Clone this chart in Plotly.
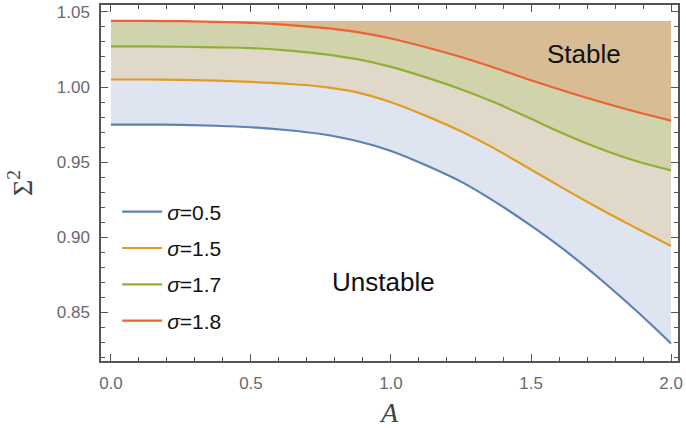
import plotly.graph_objects as go

A = [0.0, 0.125, 0.25, 0.375, 0.5, 0.625, 0.75, 0.875, 1.0, 1.125, 1.25, 1.375, 1.5, 1.625, 1.75, 1.875, 2.0]
s05 = [0.9750, 0.9750, 0.9748, 0.9742, 0.9732, 0.9714, 0.9687, 0.9642, 0.9574, 0.9479, 0.9370, 0.9232, 0.9077, 0.8907, 0.8717, 0.8512, 0.8293]
s15 = [1.0050, 1.0050, 1.0048, 1.0042, 1.0034, 1.0022, 1.0003, 0.9966, 0.9899, 0.9808, 0.9705, 0.9585, 0.9450, 0.9315, 0.9185, 0.9062, 0.8942]
s17 = [1.0270, 1.0270, 1.0268, 1.0264, 1.0259, 1.0244, 1.0221, 1.0187, 1.0134, 1.0064, 0.9985, 0.9893, 0.9788, 0.9682, 0.9587, 0.9507, 0.9445]
s18 = [1.0440, 1.0440, 1.0438, 1.0434, 1.0427, 1.0414, 1.0395, 1.0367, 1.0323, 1.0265, 1.0200, 1.0125, 1.0045, 0.9970, 0.9900, 0.9835, 0.9776]

names = ["<i>σ</i>=0.5", "<i>σ</i>=1.5", "<i>σ</i>=1.7", "<i>σ</i>=1.8"]
line_colors = ["#5E81B5", "#E19C24", "#8FB032", "#EB6235"]
fill_colors = ["#DEE5F0", "#E0D9C9", "#D1D3AD", "#D8BC94"]

series = [s05, s15, s17, s18]
top = [max(s18)] * len(A)

xrange_ = [-0.0355, 2.0249]
yrange_ = [0.8176, 1.0546]

fig = go.Figure()
# fills
bounds = series + [top]
for i, ys in enumerate(bounds):
    fig.add_trace(go.Scatter(
        x=A, y=ys, mode="lines", line=dict(width=0, shape="spline", smoothing=1.0),
        fill=None if i == 0 else "tonexty",
        fillcolor=None if i == 0 else fill_colors[i - 1],
        showlegend=False, hoverinfo="skip"))
# lines
for i, ys in enumerate(series):
    fig.add_trace(go.Scatter(
        x=A, y=ys, mode="lines", name=names[i], legendgroup=str(i),
        line=dict(color=line_colors[i], width=2.2, shape="spline", smoothing=1.0)))

# empty trace to host the mirrored tick axes (top / right frame ticks)
fig.add_trace(go.Scatter(x=[], y=[], xaxis="x2", yaxis="y2", showlegend=False, hoverinfo="skip"))

tickfont = dict(family="Liberation Sans", size=17, color="#6a6a6a")
frame = "#555555"
axcommon = dict(showline=True, linecolor=frame, linewidth=1.5, mirror=True,
                ticks="inside", ticklen=7, tickcolor=frame, tickwidth=1.2,
                showgrid=False, zeroline=False, tickfont=tickfont)

xticks = dict(tick0=0, dtick=0.5, minor=dict(dtick=0.1, ticks="inside", ticklen=4, tickcolor=frame))
yticks = dict(tick0=0.8, dtick=0.05, minor=dict(dtick=0.01, ticks="inside", ticklen=4, tickcolor=frame))

fig.update_layout(
    xaxis=dict(range=xrange_, tickformat=".1f", ticklabelstandoff=6,
               title=dict(text="<i>A</i>", font=dict(family="Liberation Serif", size=28, color="#444444"),
                          standoff=12),
               **xticks, **axcommon),
    yaxis=dict(range=yrange_, tickformat=".2f", ticklabelstandoff=6,
               title=dict(text="Σ<sup>2</sup>", font=dict(family="Liberation Serif", size=28, color="#444444"),
                          standoff=16),
               **yticks, **axcommon),
    xaxis2=dict(range=xrange_, overlaying="x", side="top", anchor="y2", showticklabels=False,
                ticks="inside", ticklen=7, tickcolor=frame, tickwidth=1.2, showgrid=False,
                zeroline=False, showline=False, **xticks),
    yaxis2=dict(range=yrange_, overlaying="y", side="right", anchor="x2", showticklabels=False,
                ticks="inside", ticklen=7, tickcolor=frame, tickwidth=1.2, showgrid=False,
                zeroline=False, showline=False, **yticks),
)

fig.add_annotation(x=1.69, y=1.0222, text="Stable", showarrow=False,
                   font=dict(family="Liberation Sans", size=26, color="#111111"))
fig.add_annotation(x=0.975, y=0.870, text="Unstable", showarrow=False,
                   font=dict(family="Liberation Sans", size=26, color="#111111"))

fig.update_layout(
    width=686, height=428,
    margin=dict(l=101, r=5, t=3, b=67),
    plot_bgcolor="white", paper_bgcolor="white",
    legend=dict(x=0.028, y=0.476, xanchor="left", yanchor="top", bgcolor="rgba(0,0,0,0)",
                font=dict(family="Liberation Sans", size=21, color="#111111"),
                itemwidth=40, tracegroupgap=6),
)

fig.write_html("out.html")
